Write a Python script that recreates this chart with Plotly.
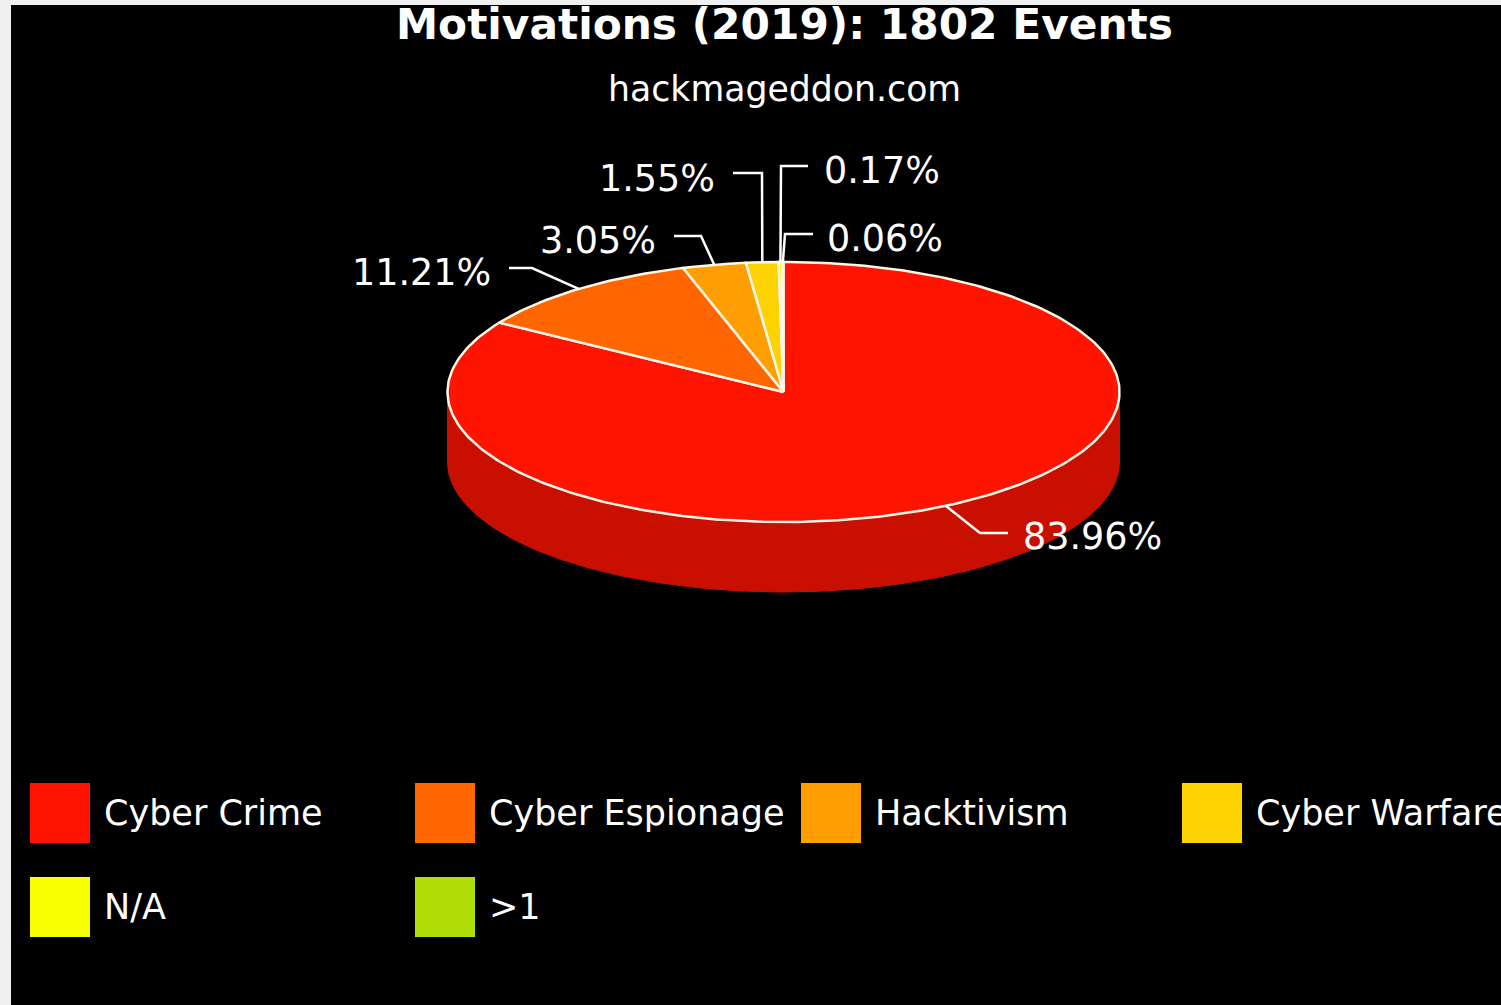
import math
import plotly.graph_objects as go

# ---- data ----
categories = ["Cyber Crime", "Cyber Espionage", "Hacktivism", "Cyber Warfare", "N/A", ">1"]
values = [83.96, 11.21, 3.05, 1.55, 0.17, 0.06]
value_labels = ["83.96%", "11.21%", "3.05%", "1.55%", "0.17%", "0.06%"]
title_text = "Motivations (2019): 1802 Events"
subtitle_text = "hackmageddon.com"

# ---- style / layout ----
colors = ["#FF1400", "#FF6600", "#FF9E01", "#FCD202", "#F8FF01", "#B0DE09"]
side_color = "#C91000"
W, H = 1501, 1005
LEFT, TOP = 11, 5
CX, CY, RX, RY, DEPTH = 783.5, 392, 336, 130, 70
FONT = "DejaVu Sans, Verdana, sans-serif"
LABEL_SIZE = 36.5
LEGEND_SIZE = 35

# leader line elbow + end, and label anchor for each slice
leader_paths = [
    [(980, 533), (1008, 533)],
    [(532, 268), (509, 268)],
    [(701, 236), (674, 236)],
    [(762, 173), (733, 173)],
    [(781, 166), (808, 166)],
    [(785, 234), (813, 234)],
]
label_pos = [
    (1021, 536, "left"),
    (493, 272, "right"),
    (658, 240, "right"),
    (717, 178, "right"),
    (822, 170, "left"),
    (825, 238, "left"),
]
legend_cols = [30, 415, 801, 1182]
legend_rows = [813, 907]
SWATCH = 60
LEG_GAP = 72


def rim(theta_deg, dy=0.0):
    t = math.radians(theta_deg)
    return CX + RX * math.sin(t), CY - RY * math.cos(t) + dy


fig = go.Figure()

# front wall of the cylinder
front = [90 + i for i in range(181)]
top_edge = [rim(a) for a in front]
bot_edge = [rim(a, DEPTH) for a in reversed(front)]
wall = top_edge + bot_edge
fig.add_trace(go.Scatter(
    x=[p[0] for p in wall] + [wall[0][0]],
    y=[p[1] for p in wall] + [wall[0][1]],
    mode="lines", fill="toself", fillcolor=side_color,
    line=dict(color=side_color, width=1), hoverinfo="skip", showlegend=False,
))

# slices on the top face
total = sum(values)
angle = 0.0
mids = []
for cat, v, c in zip(categories, values, colors):
    span = 360.0 * v / total
    n = max(2, int(span) + 2)
    arc = [rim(angle + span * i / (n - 1)) for i in range(n)]
    xs = [CX] + [p[0] for p in arc] + [CX]
    ys = [CY] + [p[1] for p in arc] + [CY]
    fig.add_trace(go.Scatter(
        x=xs, y=ys, mode="lines", fill="toself", fillcolor=c,
        line=dict(color="#FFF6E8", width=2.5), name=cat,
        hoverinfo="name", showlegend=False,
    ))
    mids.append(angle + span / 2)
    angle += span

# leader lines
for mid, path in zip(mids, leader_paths):
    start = rim(mid)
    pts = [start] + path
    fig.add_trace(go.Scatter(
        x=[p[0] for p in pts], y=[p[1] for p in pts], mode="lines",
        line=dict(color="#FFFFFF", width=2.5), hoverinfo="skip", showlegend=False,
    ))

# legend swatches
sw_x, sw_y = [], []
for i in range(len(categories)):
    col, row = i % len(legend_cols), i // len(legend_cols)
    sw_x.append(legend_cols[col] + SWATCH / 2)
    sw_y.append(legend_rows[row])
fig.add_trace(go.Scatter(
    x=sw_x, y=sw_y, mode="markers",
    marker=dict(symbol="square", size=SWATCH, color=colors, line=dict(width=0)),
    hoverinfo="skip", showlegend=False,
))

annotations = []


def text(x, y, s, size, anchor="center", bold=False):
    annotations.append(dict(
        x=x, y=y, xref="x", yref="y", text=f"<b>{s}</b>" if bold else s,
        showarrow=False, xanchor=anchor, yanchor="middle",
        font=dict(family=FONT, size=size, color="#FFFFFF"),
    ))


text(784, 24, title_text, 42.3, bold=True)
text(784, 89, subtitle_text, 34.7)
for (x, y, a), s in zip(label_pos, value_labels):
    text(x, y, s, LABEL_SIZE, anchor=a)
for i, cat in enumerate(categories):
    col, row = i % len(legend_cols), i // len(legend_cols)
    text(legend_cols[col] + LEG_GAP, legend_rows[row], cat, LEGEND_SIZE, anchor="left")

fig.update_layout(
    width=W, height=H, autosize=False,
    margin=dict(l=LEFT, t=TOP, r=0, b=0, pad=0),
    paper_bgcolor="#F0F0F0", plot_bgcolor="#000000",
    xaxis=dict(range=[LEFT, W], visible=False, fixedrange=True),
    yaxis=dict(range=[H, TOP], visible=False, fixedrange=True),
    annotations=annotations, showlegend=False,
)
fig.write_html(
    "out.html",
    config={"displayModeBar": False},
    post_script="document.body.style.margin='0';document.body.style.overflow='hidden';",
)
